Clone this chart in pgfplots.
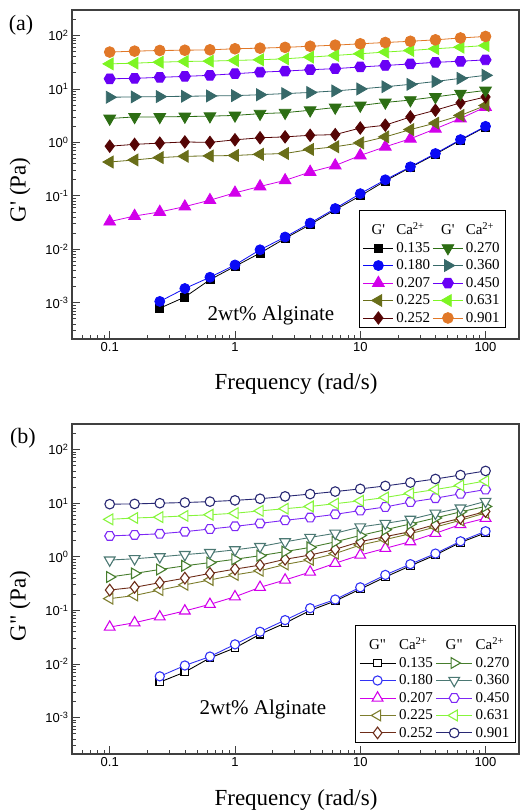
\documentclass[border=0pt]{standalone}
\usepackage{fontspec}
\setmainfont{Liberation Serif}
\setsansfont{Liberation Sans}
\usepackage{pgfplots}
\pgfplotsset{compat=1.18}
\usepackage{pgfplotstable}

\definecolor{c135}{RGB}{0,0,0}
\definecolor{c180}{RGB}{10,10,245}
\definecolor{c207}{RGB}{210,0,235}
\definecolor{c225}{RGB}{105,110,25}
\definecolor{c252}{RGB}{85,5,5}
\definecolor{c270}{RGB}{45,110,20}
\definecolor{c360}{RGB}{55,105,105}
\definecolor{c450}{RGB}{105,0,245}
\definecolor{c631}{RGB}{125,245,35}
\definecolor{c901}{RGB}{225,120,40}
\definecolor{d180}{RGB}{50,50,245}
\definecolor{d225}{RGB}{125,125,45}
\definecolor{d252}{RGB}{110,45,25}
\definecolor{d270}{RGB}{70,125,45}
\definecolor{d360}{RGB}{75,120,115}
\definecolor{d450}{RGB}{125,40,245}
\definecolor{d631}{RGB}{135,245,60}
\definecolor{d901}{RGB}{40,40,115}

\pgfdeclareplotmark{hexagon*}{%
  \pgfpathmoveto{\pgfpointpolar{0}{\pgfplotmarksize}}%
  \pgfpathlineto{\pgfpointpolar{60}{\pgfplotmarksize}}%
  \pgfpathlineto{\pgfpointpolar{120}{\pgfplotmarksize}}%
  \pgfpathlineto{\pgfpointpolar{180}{\pgfplotmarksize}}%
  \pgfpathlineto{\pgfpointpolar{240}{\pgfplotmarksize}}%
  \pgfpathlineto{\pgfpointpolar{300}{\pgfplotmarksize}}%
  \pgfpathclose
  \pgfusepathqfillstroke}

% G' (filled symbols)
\pgfplotstableread{
f      a135    a180    a207   a225  a252  a270  a360  a450  a631  a901
0.1    nan     nan     0.033  0.43  0.85  2.8   7.0   15.5  29.5  49
0.158  nan     nan     0.042  0.47  0.92  3.0   7.1   15.8  30.4  51
0.251  7.9e-4  1.06e-3 0.050  0.52  0.97  3.0   7.2   16.5  31.7  52.5
0.398  1.28e-3 1.85e-3 0.063  0.55  1.02  3.05  7.3   17.2  32.7  53
0.631  2.7e-3  3.0e-3  0.083  0.56  1.0   3.1   7.4   18    33.2  54
1      4.8e-3  5.1e-3  0.114  0.57  1.12  3.2   7.5   19.3  34.2  56.5
1.585  8.5e-3  9.8e-3  0.150  0.60  1.22  3.45  7.8   20.6  35.2  58
2.512  0.016   0.017   0.195  0.62  1.27  3.6   8.2   21.6  36.7  60
3.981  0.029   0.031   0.28   0.74  1.36  4.0   8.6   22.9  39.4  63
6.310  0.055   0.058   0.37   0.83  1.40  4.5   9.2   24    42.4  66
10     0.10    0.11    0.57   0.98  1.86  4.9   10    25.8  45.6  70
15.85  0.19    0.20    0.83   1.27  2.1   5.6   11    27.5  49    74
25.12  0.34    0.35    1.17   1.74  3.0   6.2   12.2  29.4  52.5  78
39.81  0.60    0.62    1.8    2.3   4.0   7.1   13.8  31.5  56.6  83
63.10  1.10    1.13    2.8    3.2   5.5   8.2   15.8  33    60.5  90
100    1.95    2.0     4.6    4.9   7.1   9.4   18    35    65    96
}\tabA

% G'' (open symbols)
\pgfplotstableread{
f      b135   b180   b207  b225  b252  b270  b360  b450  b631  b901
0.1    nan    nan    0.049 0.166 0.24  0.42  0.87  2.45  5.0   9.6
0.158  nan    nan    0.059 0.19  0.27  0.49  0.92  2.56  5.3   9.7
0.251  4.6e-3 5.9e-3 0.076 0.24  0.33  0.58  1.0   2.69  5.5   10
0.398  7.1e-3 9.4e-3 0.098 0.30  0.40  0.68  1.1   2.95  5.8   10.3
0.631  0.013  0.0138 0.13  0.37  0.49  0.78  1.2   3.3   6.1   10.7
1      0.020  0.0233 0.18  0.46  0.59  0.90  1.35  3.7   6.5   11.3
1.585  0.036  0.040  0.27  0.55  0.70  1.05  1.55  4.2   7.2   12.1
2.512  0.058  0.066  0.37  0.72  0.90  1.25  1.9   4.8   7.9   13.4
3.981  0.10   0.11   0.52  0.88  1.08  1.5   2.3   5.4   8.7   14.8
6.310  0.15   0.16   0.76  1.15  1.38  1.9   2.75  6.2   9.8   16.5
10     0.25   0.27   1.08  1.66  1.92  2.5   3.6   7.3   11.1  18.5
15.85  0.42   0.46   1.44  2.1   2.38  3.2   4.2   8.5   12.8  21
25.12  0.68   0.73   1.92  2.7   2.95  4.1   5.0   10.5  15.3  24.3
39.81  1.08   1.15   2.75  3.6   4.0   5.3   6.5   12.4  18    28.3
63.10  1.85   1.95   4.0   4.8   5.25  6.9   8.1   15    21.5  33.5
100    2.8    3.0    5.25  6.6   7.0   8.7   10.8  18    26    40
}\tabB

\pgfplotsset{
  ga/.style={line width=0.8pt, mark options={solid}},
  sA135/.style={ga, color=c135, mark=square*, mark size=4pt},
  sA180/.style={ga, color=c180, mark=*, mark size=5pt},
  sA207/.style={ga, color=c207, mark=triangle*, mark size=6.8pt},
  sA225/.style={ga, color=c225, mark=triangle*, mark size=6.8pt, mark options={solid, rotate=90}},
  sA252/.style={ga, color=c252, mark=diamond*, mark size=6.2pt},
  sA270/.style={ga, color=c270, mark=triangle*, mark size=6.8pt, mark options={solid, rotate=180}},
  sA360/.style={ga, color=c360, mark=triangle*, mark size=6.8pt, mark options={solid, rotate=-90}},
  sA450/.style={ga, color=c450, mark=hexagon*, mark size=5.6pt},
  sA631/.style={ga, color=c631, mark=triangle*, mark size=6.8pt, mark options={solid, rotate=90}},
  sA901/.style={ga, color=c901, mark=*, mark size=5.4pt},
  gb/.style={line width=0.9pt, mark options={solid, fill=white, line width=1.1pt}},
  sB135/.style={gb, color=c135, mark=square*, mark size=3.8pt},
  sB180/.style={gb, color=d180, mark=*, mark size=4.6pt},
  sB207/.style={gb, color=c207, mark=triangle*, mark size=6.2pt},
  sB225/.style={gb, color=d225, mark=triangle*, mark size=6.2pt, mark options={solid, fill=white, line width=1.1pt, rotate=90}},
  sB252/.style={gb, color=d252, mark=diamond*, mark size=5.8pt},
  sB270/.style={gb, color=d270, mark=triangle*, mark size=6.2pt, mark options={solid, fill=white, line width=1.1pt, rotate=-90}},
  sB360/.style={gb, color=d360, mark=triangle*, mark size=6.2pt, mark options={solid, fill=white, line width=1.1pt, rotate=180}},
  sB450/.style={gb, color=d450, mark=hexagon*, mark size=5pt},
  sB631/.style={gb, color=d631, mark=triangle*, mark size=6.2pt, mark options={solid, fill=white, line width=1.1pt, rotate=90}},
  sB901/.style={gb, color=d901, mark=*, mark size=4.8pt},
}

\begin{document}
\begin{tikzpicture}

% ---------- (a) G' ----------
\begin{axis}[at={(72pt,-339pt)}, anchor=south west,
    scale only axis, width=447pt, height=329pt,
    xmode=log, ymode=log, log basis x=10, log basis y=10,
    xmin=0.05, xmax=185, ymin=2.1e-4, ymax=300,
    xtick={0.1,1,10,100}, xticklabels={0.1,1,10,100},
    minor xtick={0.06,0.07,0.08,0.09,0.2,0.3,0.4,0.5,0.6,0.7,0.8,0.9,2,3,4,5,6,7,8,9,20,30,40,50,60,70,80,90},
    ytick={1e-3,1e-2,1e-1,1,10,100},
    minor ytick={3e-4,4e-4,5e-4,6e-4,7e-4,8e-4,9e-4,2e-3,3e-3,4e-3,5e-3,6e-3,7e-3,8e-3,9e-3,0.02,0.03,0.04,0.05,0.06,0.07,0.08,0.09,0.2,0.3,0.4,0.5,0.6,0.7,0.8,0.9,2,3,4,5,6,7,8,9,20,30,40,50,60,70,80,90,200},
    yticklabel={10\textsuperscript{\pgfmathparse{int(round(\tick))}\pgfmathresult}},
    tick align=inside, xtick pos=bottom, ytick pos=left,
    major tick length=8pt, minor tick length=4.5pt,
    tick style={black!75, line width=0.8pt},
    axis line style={black!75, line width=1.1pt},
    tick label style={font=\sffamily\fontsize{13}{15}\selectfont},
    legend columns=2,
    legend cell align=left,
    legend style={at={(0.971,0.033)}, anchor=south east,
      draw=black, line width=0.9pt, fill=white,
      font=\fontsize{15}{17}\selectfont,
      inner xsep=4pt, inner ysep=2pt, row sep=2pt, column sep=0.5pt},
    legend image code/.code={\draw[mark repeat=2,mark phase=2] plot coordinates {(0pt,0pt) (15pt,0pt) (30pt,0pt)};},
]
\addplot[sA135, forget plot] table[x=f, y=a135] {\tabA};
\addplot[sA180, forget plot] table[x=f, y=a180] {\tabA};
\addplot[sA207, forget plot] table[x=f, y=a207] {\tabA};
\addplot[sA225, forget plot] table[x=f, y=a225] {\tabA};
\addplot[sA252, forget plot] table[x=f, y=a252] {\tabA};
\addplot[sA270, forget plot] table[x=f, y=a270] {\tabA};
\addplot[sA360, forget plot] table[x=f, y=a360] {\tabA};
\addplot[sA450, forget plot] table[x=f, y=a450] {\tabA};
\addplot[sA631, forget plot] table[x=f, y=a631] {\tabA};
\addplot[sA901, forget plot] table[x=f, y=a901] {\tabA};
\addlegendimage{legend image code/.code={\node[anchor=base, inner sep=0pt] at (15pt,-8.8pt) {G\textquotesingle};}}
\addlegendentry{\rule{0pt}{20pt}Ca\textsuperscript{2+}}
\addlegendimage{legend image code/.code={\node[anchor=base, inner sep=0pt] at (15pt,-8.8pt) {G\textquotesingle};}}
\addlegendentry{\rule{0pt}{20pt}Ca\textsuperscript{2+}}
\addlegendimage{sA135}\addlegendentry{0.135}
\addlegendimage{sA270}\addlegendentry{0.270}
\addlegendimage{sA180}\addlegendentry{0.180}
\addlegendimage{sA360}\addlegendentry{0.360}
\addlegendimage{sA207}\addlegendentry{0.207}
\addlegendimage{sA450}\addlegendentry{0.450}
\addlegendimage{sA225}\addlegendentry{0.225}
\addlegendimage{sA631}\addlegendentry{0.631}
\addlegendimage{sA252}\addlegendentry{0.252}
\addlegendimage{sA901}\addlegendentry{0.901}
\end{axis}

% ---------- (b) G'' ----------
\begin{axis}[at={(72pt,-754pt)}, anchor=south west,
    scale only axis, width=447pt, height=330pt,
    xmode=log, ymode=log, log basis x=10, log basis y=10,
    xmin=0.05, xmax=185, ymin=2.1e-4, ymax=300,
    xtick={0.1,1,10,100}, xticklabels={0.1,1,10,100},
    minor xtick={0.06,0.07,0.08,0.09,0.2,0.3,0.4,0.5,0.6,0.7,0.8,0.9,2,3,4,5,6,7,8,9,20,30,40,50,60,70,80,90},
    ytick={1e-3,1e-2,1e-1,1,10,100},
    minor ytick={3e-4,4e-4,5e-4,6e-4,7e-4,8e-4,9e-4,2e-3,3e-3,4e-3,5e-3,6e-3,7e-3,8e-3,9e-3,0.02,0.03,0.04,0.05,0.06,0.07,0.08,0.09,0.2,0.3,0.4,0.5,0.6,0.7,0.8,0.9,2,3,4,5,6,7,8,9,20,30,40,50,60,70,80,90,200},
    yticklabel={10\textsuperscript{\pgfmathparse{int(round(\tick))}\pgfmathresult}},
    tick align=inside, xtick pos=bottom, ytick pos=left,
    major tick length=8pt, minor tick length=4.5pt,
    tick style={black!75, line width=0.8pt},
    axis line style={black!75, line width=1.1pt},
    tick label style={font=\sffamily\fontsize{13}{15}\selectfont},
    legend columns=2,
    legend cell align=left,
    legend style={at={(0.993,0.033)}, anchor=south east,
      draw=black, line width=0.9pt, fill=white,
      font=\fontsize{15}{17}\selectfont,
      inner xsep=4pt, inner ysep=2pt, row sep=2pt, column sep=1pt},
    legend image code/.code={\draw[mark repeat=2,mark phase=2] plot coordinates {(0pt,0pt) (18pt,0pt) (36pt,0pt)};},
]
\addplot[sB135, forget plot] table[x=f, y=b135] {\tabB};
\addplot[sB180, forget plot] table[x=f, y=b180] {\tabB};
\addplot[sB207, forget plot] table[x=f, y=b207] {\tabB};
\addplot[sB225, forget plot] table[x=f, y=b225] {\tabB};
\addplot[sB252, forget plot] table[x=f, y=b252] {\tabB};
\addplot[sB270, forget plot] table[x=f, y=b270] {\tabB};
\addplot[sB360, forget plot] table[x=f, y=b360] {\tabB};
\addplot[sB450, forget plot] table[x=f, y=b450] {\tabB};
\addplot[sB631, forget plot] table[x=f, y=b631] {\tabB};
\addplot[sB901, forget plot] table[x=f, y=b901] {\tabB};
\addlegendimage{legend image code/.code={\node[anchor=base, inner sep=0pt] at (18pt,-8.8pt) {G\textquotedbl};}}
\addlegendentry{\rule{0pt}{20pt}Ca\textsuperscript{2+}}
\addlegendimage{legend image code/.code={\node[anchor=base, inner sep=0pt] at (18pt,-8.8pt) {G\textquotedbl};}}
\addlegendentry{\rule{0pt}{20pt}Ca\textsuperscript{2+}}
\addlegendimage{sB135}\addlegendentry{0.135}
\addlegendimage{sB270}\addlegendentry{0.270}
\addlegendimage{sB180}\addlegendentry{0.180}
\addlegendimage{sB360}\addlegendentry{0.360}
\addlegendimage{sB207}\addlegendentry{0.207}
\addlegendimage{sB450}\addlegendentry{0.450}
\addlegendimage{sB225}\addlegendentry{0.225}
\addlegendimage{sB631}\addlegendentry{0.631}
\addlegendimage{sB252}\addlegendentry{0.252}
\addlegendimage{sB901}\addlegendentry{0.901}
\end{axis}

% labels
\node[font=\fontsize{22}{24}\selectfont] at (21pt,-25pt) {(a)};
\node[rotate=90, font=\fontsize{23}{26}\selectfont] at (20pt,-190pt) {G\textquotesingle\ (Pa)};
\node[font=\fontsize{23}{26}\selectfont] at (296pt,-384pt) {Frequency (rad/s)};
\node[font=\fontsize{21}{24}\selectfont] at (271pt,-315pt) {2wt\% Alginate};

\node[font=\fontsize{22}{24}\selectfont] at (23pt,-438pt) {(b)};
\node[rotate=90, font=\fontsize{23}{26}\selectfont] at (20pt,-606pt) {G\textquotedbl\ (Pa)};
\node[font=\fontsize{23}{26}\selectfont] at (296pt,-800pt) {Frequency (rad/s)};
\node[font=\fontsize{21}{24}\selectfont] at (263pt,-709pt) {2wt\% Alginate};

\pgfresetboundingbox
\useasboundingbox (0pt,0pt) rectangle (520pt,-812pt);
\end{tikzpicture}
\end{document}
